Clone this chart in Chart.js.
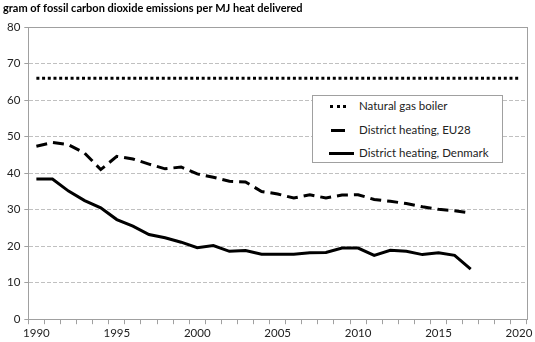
<!DOCTYPE html>
<html>
<head>
<meta charset="utf-8">
<script src="https://cdn.jsdelivr.net/npm/chart.js@4.4.0/dist/chart.umd.min.js"></script>
<style>
  body { margin: 0; background: #fff; }
  .wrap { position: relative; width: 535px; height: 342px; }
  .legend {
    position: absolute; left: 312px; top: 95px; width: 189px; height: 66px;
    border: 1px solid #a0a0a0; background: #fff;
    font-family: Lato, sans-serif; font-size: 11.5px; color: #222;
  }
  .legend .item { position: absolute; left: 0; height: 14px; line-height: 14px; }
  .legend .swatch { position: absolute; left: 16px; top: 6px; width: 25px; height: 0; }
  .legend .txt { position: absolute; left: 46px; top: 0; white-space: nowrap; }
</style>
</head>
<body>
<div class="wrap">
  <canvas class="chart-a" width="535" height="342"></canvas>
  <div class="legend" id="legend"></div>
</div>
<script>
const titleText = 'gram of fossil carbon dioxide emissions per MJ heat delivered';

const years = [];
for (let y = 1990; y <= 2020; y++) years.push(String(y));

const seriesNames = ['Natural gas boiler', 'District heating, EU28', 'District heating, Denmark'];

const gasBoiler = [66, 66, 66, 66, 66, 66, 66, 66, 66, 66, 66, 66, 66, 66, 66, 66,
  66, 66, 66, 66, 66, 66, 66, 66, 66, 66, 66, 66, 66, 66, 66];

const eu28 = [47.4, 48.4, 47.8, 45.5, 41.0, 44.6, 43.9, 42.5, 41.2, 41.7, 39.8,
  38.9, 37.8, 37.6, 35.0, 34.3, 33.2, 34.1, 33.2, 34.0, 34.1, 32.8, 32.3, 31.7,
  30.8, 30.1, 29.7, 29.1];

const denmark = [38.4, 38.4, 35.1, 32.5, 30.5, 27.3, 25.5, 23.2, 22.3, 21.1, 19.6,
  20.2, 18.6, 18.8, 17.8, 17.8, 17.8, 18.2, 18.3, 19.5, 19.5, 17.5, 18.9, 18.6,
  17.7, 18.2, 17.5, 13.7];

const yTicks = [0, 10, 20, 30, 40, 50, 60, 70, 80];

const styles = [
  { dash: [3, 2.7], width: 3 },
  { dash: [11, 6], width: 3 },
  { dash: [], width: 3 }
];

const plotBorder = {
  id: 'plotBorder',
  beforeDatasetsDraw(chart) {
    const a = chart.chartArea;
    const ctx = chart.ctx;
    ctx.save();
    ctx.strokeStyle = '#a0a0a0';
    ctx.lineWidth = 1;
    ctx.strokeRect(Math.round(a.left) + 0.5, Math.round(a.top) + 0.5,
      Math.round(a.right - a.left), Math.round(a.bottom - a.top));
    ctx.restore();
  }
};

const chartA = document.getElementsByClassName('chart-a');
new Chart(chartA, {
  type: 'line',
  data: {
    labels: years,
    datasets: [gasBoiler, eu28, denmark].map((d, i) => ({
      label: seriesNames[i],
      data: d,
      borderColor: '#000',
      borderWidth: styles[i].width,
      borderDash: styles[i].dash,
      borderCapStyle: 'butt',
      pointRadius: 0,
      tension: 0,
      fill: false
    }))
  },
  options: {
    responsive: false,
    animation: false,
    layout: { padding: { left: 3, right: 8, top: 0, bottom: 0 } },
    plugins: {
      legend: { display: false },
      tooltip: { enabled: false },
      title: {
        display: true,
        text: titleText,
        align: 'start',
        color: '#000',
        font: { family: 'Lato', size: 11, weight: 'bold' },
        padding: { top: 2, bottom: 12 }
      }
    },
    scales: {
      x: {
        type: 'category',
        offset: true,
        grid: { offset: true, drawOnChartArea: false, drawTicks: true, tickLength: 5, color: '#a0a0a0' },
        border: { color: '#a0a0a0' },
        ticks: {
          autoSkip: false,
          maxRotation: 0,
          padding: 2,
          color: '#222',
          font: { family: 'Lato', size: 11.5 },
          callback: function (v, i) { return (1990 + i) % 5 === 0 ? years[i] : ''; }
        }
      },
      y: {
        min: yTicks[0],
        max: yTicks[yTicks.length - 1],
        afterBuildTicks: s => { s.ticks = yTicks.map(v => ({ value: v })); },
        grid: { color: '#c0c0c0', tickLength: 4, tickColor: '#a0a0a0' },
        border: { color: '#a0a0a0', dash: [4, 2] },
        ticks: {
          padding: 4,
          color: '#222',
          font: { family: 'Lato', size: 11.5 }
        }
      }
    }
  },
  plugins: [plotBorder]
});

// legend box inside the plot area
const legend = document.getElementById('legend');
const swatchBorder = ['3px dotted #000', '3px solid #000', '3px solid #000'];
seriesNames.forEach((name, i) => {
  const item = document.createElement('div');
  item.className = 'item';
  item.style.top = (3 + i * 23.5) + 'px';
  item.style.width = '100%';
  const sw = document.createElement('div');
  sw.className = 'swatch';
  sw.style.borderTop = swatchBorder[i];
  if (i === 0) { sw.style.left = '17px'; sw.style.width = '16px'; }
  if (i === 1) { sw.style.left = '18px'; sw.style.width = '14px'; }
  const tx = document.createElement('div');
  tx.className = 'txt';
  tx.textContent = name;
  item.appendChild(sw);
  item.appendChild(tx);
  legend.appendChild(item);
});
</script>
</body>
</html>
